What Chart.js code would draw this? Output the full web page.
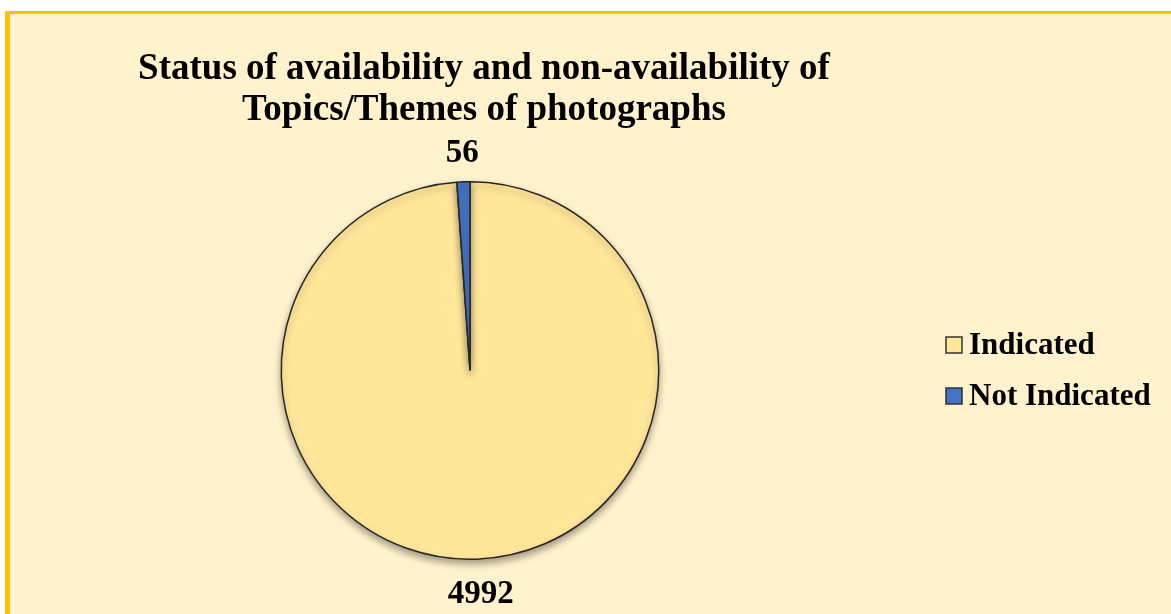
<!DOCTYPE html>
<html>
<head>
<meta charset="utf-8">
<script src="https://cdn.jsdelivr.net/npm/chart.js@4/dist/chart.umd.min.js"></script>
<style>
  html, body { margin: 0; padding: 0; background: #ffffff; }
  #wrap { position: relative; width: 1171px; height: 614px; }
  canvas { display: block; }
</style>
</head>
<body>
<div id="wrap"><canvas id="c" width="1171" height="614"></canvas></div>
<script>
// Photograph records by whether a topic/theme is given
const categories = ['Indicated', 'Not Indicated'];
const counts = [4992, 56];
const sliceColors = ['#FFE699', '#4472C4'];
const titleLines = ['Status of availability and non-availability of', 'Topics/Themes of photographs'];

const SERIF = '"Liberation Serif", "Times New Roman", serif';

// Panel background with gold top/left rules
const panelBg = {
  id: 'panelBg',
  beforeDraw(chart) {
    const ctx = chart.ctx;
    ctx.save();
    ctx.fillStyle = '#ffffff';
    ctx.fillRect(0, 0, chart.width, chart.height);
    ctx.fillStyle = '#FFF2CC';
    ctx.fillRect(5, 11, chart.width - 5, chart.height - 11);
    ctx.fillStyle = '#FFC000';
    ctx.fillRect(5, 11, chart.width - 5, 3);
    ctx.fillRect(5, 11, 5, chart.height - 11);
    ctx.restore();
  }
};

// Soft drop shadow under the pie
const pieShadow = {
  id: 'pieShadow',
  beforeDatasetsDraw(chart) {
    const ctx = chart.ctx;
    ctx.save();
    ctx.shadowColor = 'rgba(0,0,0,0.35)';
    ctx.shadowBlur = 7;
    ctx.shadowOffsetX = 0;
    ctx.shadowOffsetY = 4;
  },
  afterDatasetsDraw(chart) {
    chart.ctx.restore();
  }
};

// Title, value labels and legend
const annotations = {
  id: 'annotations',
  afterDraw(chart) {
    const ctx = chart.ctx;
    ctx.save();
    ctx.fillStyle = '#000000';
    ctx.textAlign = 'center';
    ctx.textBaseline = 'middle';
    ctx.font = 'bold 37px ' + SERIF;
    ctx.fillText(titleLines[0], 484, 69);
    ctx.fillText(titleLines[1], 484, 110);

    // value labels just outside each slice
    const meta = chart.getDatasetMeta(0);
    ctx.font = 'bold 33px ' + SERIF;
    meta.data.forEach((arc, i) => {
      const mid = (arc.startAngle + arc.endAngle) / 2;
      const r = arc.outerRadius + 31;
      const x = arc.x + Math.cos(mid) * r;
      const y = arc.y + Math.sin(mid) * r;
      ctx.fillText(String(counts[i]), x + (i === 1 ? 0 : 3), y + (i === 1 ? 3 : 4));
    });

    // legend
    ctx.textAlign = 'left';
    ctx.font = 'bold 31px ' + SERIF;
    const rows = [345, 396];
    categories.forEach((name, i) => {
      const y = rows[i];
      ctx.fillStyle = sliceColors[i];
      ctx.fillRect(946, y - 8, 16, 16);
      ctx.strokeStyle = '#333333';
      ctx.lineWidth = 1.5;
      ctx.strokeRect(946, y - 8, 16, 16);
      ctx.fillStyle = '#000000';
      ctx.fillText(name, 969, y + 1);
    });
    ctx.restore();
  }
};

new Chart(document.getElementById('c'), {
  type: 'pie',
  data: {
    labels: categories,
    datasets: [{
      data: counts,
      backgroundColor: sliceColors,
      borderColor: '#262626',
      borderWidth: 1.5
    }]
  },
  options: {
    responsive: false,
    animation: false,
    layout: { padding: { left: 280, right: 511, top: 181, bottom: 54 } },
    plugins: {
      legend: { display: false },
      title: { display: false },
      tooltip: { enabled: false }
    }
  },
  plugins: [panelBg, pieShadow, annotations]
});
</script>
</body>
</html>
